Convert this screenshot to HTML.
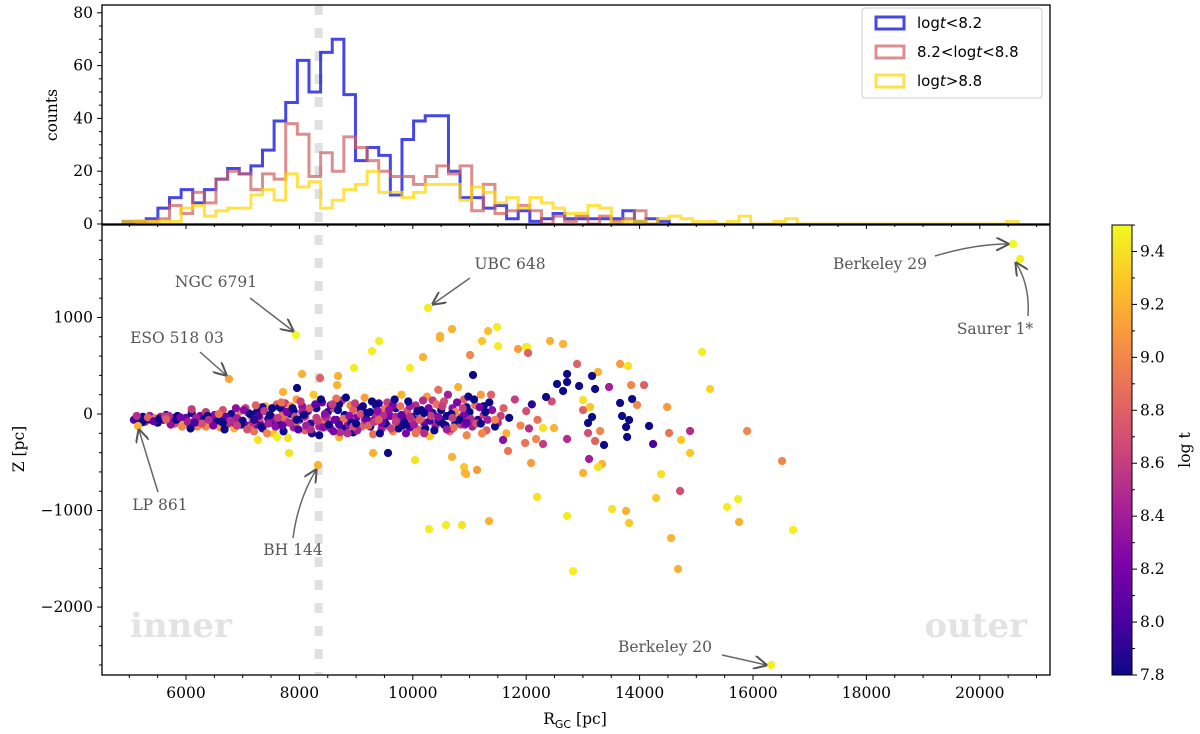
<!DOCTYPE html>
<html><head><meta charset="utf-8"><style>
body{margin:0;background:#fff}
svg{display:block}
</style></head><body>
<svg id="chart" width="1200" height="734" viewBox="0 0 1200 734" xmlns="http://www.w3.org/2000/svg" font-family="'DejaVu Serif','Liberation Serif',serif">
<defs>
<linearGradient id="plasma" x1="0" y1="1" x2="0" y2="0">
<stop offset="0" stop-color="#0d0887"/><stop offset="0.125" stop-color="#4c02a1"/>
<stop offset="0.25" stop-color="#7e03a8"/><stop offset="0.375" stop-color="#a82296"/>
<stop offset="0.5" stop-color="#cc4778"/><stop offset="0.625" stop-color="#e66c5c"/>
<stop offset="0.75" stop-color="#f89540"/><stop offset="0.875" stop-color="#fdc527"/>
<stop offset="1" stop-color="#f0f921"/></linearGradient>
<marker id="arr" viewBox="0 0 10 10" refX="9" refY="5" markerWidth="9" markerHeight="9" orient="auto"><path d="M0,0 L10,5 L0,10" fill="none" stroke="#555" stroke-width="1.5"/></marker>
</defs>
<g id="topPanel"></g>
<g id="botPanel"></g>
<g id="cbarPanel"></g>
</svg>
<script>
const histStart = 4889, histWidth = 205;
const blueCounts = [1,1,2,6,10,13,8,13,17,21,19,22,28,39,46,62,50,65,70,49,24,29,26,11,32,39,41,41,20,10,10,6,7,2,5,1,2,4,2,2,2,2,2,5,1,2,1];
const redCounts = [0,1,1,2,7,4,12,8,17,20,19,13,19,17,38,34,18,27,20,33,29,24,20,18,18,15,18,22,19,22,5,15,4,5,7,5,0,3,1,3,0,3,1,2,5,0];
const yellowCounts = [1,1,1,1,1,6,7,3,5,6,6,11,13,9,19,14,16,6,9,13,15,20,12,12,10,12,15,15,15,9,14,12,8,10,6,10,8,6,4,4,7,6,0,1,1,0,2,3,2,1,1,0,1,3,0,0,1,2,0,0,0,0,0,0,0,0,0,0,0,0,0,0,0,0,0,0,1];
const xTicks = [6000,8000,10000,12000,14000,16000,18000,20000];
const countTicks = [0,20,40,60,80];
const zTicks = [1000,0,-1000,-2000];
const cbTicks = [7.8,8.0,8.2,8.4,8.6,8.8,9.0,9.2,9.4];
const clusterR = [5080,5120,5160,5200,5240,5280,5320,5360,5400,5450,
5500,5550,5600,5650,5700,5750,5800,5850,5900,5950,
6000,6050,6100,6150,6200,6250,6300,6350,6400,6450,
6500,6550,6600,6650,6700,6750,6800,6850,6900,6950,
7000,7050,7100,7150,7200,7250,7300,7350,7400,7450,
7500,7550,7600,7650,7700,7750,7800,7850,7900,7950,
8000,8050,8100,8150,8200,8250,8300,8350,8400,8450,
8500,8550,8600,8650,8700,8750,8800,8850,8900,8950,
9000,9050,9100,9150,9200,9250,9300,9350,9400,9450,
9500,9550,9600,9650,9700,9750,9800,9850,9900,9950,
10000,10050,10100,10150,10200,10250,10300,10350,10400,10450,
10500,10550,10600,10650,10700,10750,10800,10850,10900,10950,
11000,11050,11100,11150,11200,11250,11300,11350,11400,11500,
11600,11700,11800,11900,12000,12100,12200,5700,6200,6700,
7100,7300,7500,7700,7900,8100,8300,8500,8700,8900,
9100,9300,9500,9700,9900,10100,10300,10500,10700,10900,
7150,7350,7550,7750,7950,8150,8350,8550,8750,8950,
9150,9350,9550,9750,9950,10150,10350,10550,10750,10950,
6100,6350,6600,6850,7250,7650,8050,8450,8850,9250,
9650,10050,10450,10850,11250,11650,12050,12450,7850,8650];
const clusterZ = [-60,-40,-70,-50,-30,-80,-55,-20,-65,-45,
-90,-30,-60,-10,-75,-40,-100,-20,-55,-85,
-40,-110,10,-70,-130,-20,-60,20,-95,-50,
-10,-80,-140,40,-60,-100,0,-150,-40,30,
-70,60,-120,-30,-180,20,-90,-150,80,-50,
-20,-200,100,-110,40,-60,-250,0,-140,150,
-60,80,-170,30,-100,200,-40,-220,120,-80,
20,-150,60,-60,-240,140,-10,-120,90,-190,
-40,60,-130,170,-80,20,-210,-30,110,-150,
-70,120,-20,-180,60,-100,200,-50,30,-140,
-30,90,-160,40,-90,180,-230,10,-120,250,
-60,130,-20,-180,60,-100,280,-40,150,-220,
20,-130,90,-60,200,-10,-170,120,40,-90,
60,-40,150,-120,30,100,-60,-20,-80,-30,
10,-40,-90,-20,30,-30,60,-100,100,-50,
20,-70,50,-30,-110,10,-70,40,-150,-10,
-130,70,-50,110,-80,-120,-130,90,-150,40,
-60,90,-120,-150,80,-40,140,-110,20,70,
50,-130,-70,-90,-110,70,20,-30,-200,-130,
90,-200,-60,-110,80,-200,-150,130,80,160];
const clusterT = [8.1,7.8,7.9,8.2,7.8,8.6,7.9,8.3,7.8,8.9,
7.8,8.4,8.0,7.8,9.1,8.2,8.7,7.8,8.3,9.2,
8.1,8.8,7.8,8.5,9.0,8.2,7.8,8.6,8.9,7.9,
8.3,7.8,9.1,8.7,8.0,8.5,7.8,9.2,8.4,8.9,
7.8,8.6,8.2,9.0,8.9,7.8,8.3,8.1,9.2,7.9,
8.5,9.3,8.8,7.8,8.2,8.7,9.4,7.8,8.4,9.1,
7.8,8.3,8.8,8.1,7.9,9.3,8.6,7.8,8.2,8.9,
7.8,8.4,8.7,8.0,9.2,8.5,7.8,8.3,9.0,7.8,
8.2,7.8,8.8,9.1,8.1,7.8,8.9,8.5,7.9,8.4,
7.8,8.6,8.2,9.0,7.8,8.3,9.2,7.8,8.7,8.1,
7.8,8.5,8.8,7.8,8.2,9.1,9.3,7.9,8.4,8.9,
8.0,8.7,7.8,8.9,8.3,7.8,9.2,8.5,8.8,9.0,
7.8,8.4,8.9,7.9,9.1,8.6,8.8,7.8,8.3,8.5,
8.8,7.8,8.6,9.0,8.7,7.9,8.9,8.5,7.9,8.1,
8.4,8.7,7.8,8.9,7.8,8.6,7.8,8.9,7.8,8.6,
7.8,8.2,8.9,8.5,7.8,8.6,8.0,7.8,8.5,8.2,
8.9,7.9,8.3,8.6,8.8,7.8,8.4,8.1,7.8,8.8,
8.5,7.8,8.7,7.8,8.4,8.9,8.6,7.8,9.0,7.8,
8.6,9.0,7.8,8.4,8.1,7.8,8.4,8.6,8.5,7.8,
8.2,8.9,7.8,8.6,7.8,9.2,8.5,8.7,9.1,8.9];
const cluster2R = [5130,5230,5330,5430,5530,5630,5730,5830,5930,6030,
6080,6180,6280,6380,6480,6580,6680,6780,6880,6980,
7020,7080,7130,7180,7230,7280,7330,7380,7430,7480,
7520,7580,7620,7680,7720,7780,7820,7880,7920,7980,
8020,8080,8120,8180,8220,8280,8320,8380,8420,8480,
8520,8580,8620,8680,8720,8780,8820,8880,8920,8980,
9020,9080,9120,9180,9220,9280,9320,9380,9420,9480,
9520,9580,9620,9680,9720,9780,9820,9880,9920,9980,
10020,10080,10120,10180,10220,10280,10320,10380,10420,10480,
10520,10580,10620,10680,10720,10780,10820,10880,10920,10980,
11020,11080,11120,11180,11220,11280,11320,11380,11450,11550,
5650,5900,6150,6400,6650,6900,7200,7450,7700,7950,
8200,8450,8700,8950,9200,9450,9700,9950,10200,10450,
10700,10950,11200,11450,8600,9000,9400,9800,10200,10600];
const cluster2Z = [-20,-85,-35,-75,-50,-25,-110,-60,-130,-80,
-150,-40,-100,-20,-120,0,-160,-70,60,-110,
40,-160,0,-90,90,-20,-130,30,-200,-10,
60,-130,-40,120,-180,20,-90,60,-30,-160,
130,-10,-120,60,-200,100,-70,150,-140,-30,
-110,100,-60,40,-190,-50,170,-20,-90,110,
-170,0,80,-50,-120,130,-80,30,-200,-20,
-100,40,-150,150,-40,80,-120,-200,130,-60,
-110,30,-60,140,-150,60,-20,-170,100,-80,
80,-120,200,0,-140,120,-60,60,-110,180,
-50,150,-100,70,-200,20,-60,200,-130,-20,
-55,-35,-90,-60,-90,-120,-60,-100,-120,-60,
-160,0,-110,-130,10,-90,-80,-30,10,-30,
-40,-90,-100,-60,-180,-100,-60,-10,-200,-160];
const cluster2T = [8.5,7.8,8.8,8.1,7.8,8.6,8.3,7.8,9.0,8.4,
7.8,8.4,8.7,7.8,8.2,8.9,7.8,8.5,8.3,7.8,
8.3,8.7,7.8,8.5,8.8,8.0,7.8,8.6,9.0,7.8,
7.8,8.3,8.6,8.9,7.8,8.2,8.5,7.8,8.7,8.0,
8.6,7.8,8.4,8.8,7.8,8.1,8.6,7.8,8.3,8.5,
7.8,8.6,8.2,7.8,8.5,8.9,7.8,8.3,7.8,8.6,
8.4,8.7,7.8,8.1,8.8,7.8,8.6,8.3,7.8,8.5,
7.8,8.3,8.6,7.8,8.5,8.9,7.8,8.2,7.8,8.6,
8.4,7.8,8.8,8.5,7.8,8.2,8.6,7.8,8.9,7.8,
8.6,7.8,8.4,7.8,8.9,8.2,7.8,8.6,8.3,7.8,
8.5,7.8,8.7,8.2,9.0,7.8,8.4,8.8,7.8,8.6,
8.8,8.2,8.0,8.5,7.8,8.6,7.9,8.4,8.1,7.8,
8.5,8.3,8.0,8.7,7.8,8.2,8.6,8.5,7.8,8.3,
8.6,8.1,7.8,9.0,8.2,7.8,8.8,8.1,8.5,8.4];
const sparseR = [10269,10692,10480,11486,11327,11221,11504,12421,12650,15102,15243,12015,11856,11010,13797,13656,12897,13267,14079,13850,13462,12721,12544,12721,12933,13215,13162,12650,12350,13656,13868,13956,14485,13691,13815,13762,14167,13780,13162,13091,13373,14238,14890,14520,14732,14890,15896,16513,13091,13303,13215,13003,13003,13127,12721,12297,12174,11980,12491,12297,13109,13338,13267,13003,12086,11680,11592,11133,10939,10904,10692,10040,14379,14714,14291,13515,13762,13815,12192,12721,11345,10868,10586,10286,14555,12827,14679,15543,15737,15755,16707,
9405,9281,8963,8681,8046,8364,9952,10180,10480,11997,7605,7817,7270,10921,9563,9299,7711,7958,8664,11062,12033];
const sparseZ = [1098,880,808,901,860,756,704,756,725,642,259,694,673,611,497,518,518,435,300,300,280,414,311,331,290,259,394,238,176,114,155,93,73,-21,-62,-135,-124,-238,-31,-93,-321,-311,-176,-197,-269,-404,-176,-487,-197,-176,-280,41,145,73,-259,-311,-259,-300,-145,-145,-466,-518,-549,-611,-508,-383,-269,-580,-622,-549,-445,-477,-622,-798,-870,-984,-1005,-1129,-860,-1057,-1109,-1150,-1150,-1191,-1285,-1627,-1606,-963,-881,-1119,-1202,
756,653,477,394,414,373,477,590,787,694,-238,-404,-269,-611,-404,-404,228,269,300,404,632];
const sparseT = [9.4,9.2,9.2,9.45,9.25,9.3,9.45,9.2,9.2,9.45,9.35,9.45,9.1,9.0,9.4,9.1,8.8,9.2,8.8,9.0,8.4,7.8,7.8,7.8,7.8,7.8,7.8,7.8,7.8,7.8,7.8,9.0,9.1,7.8,7.8,7.8,7.8,7.8,7.8,7.8,7.8,8.0,8.5,8.9,9.3,9.3,9.0,9.0,8.7,9.0,8.8,8.8,9.4,9.3,8.5,8.6,9.0,8.9,9.2,9.4,8.4,9.2,9.4,9.2,9.1,8.9,8.3,9.1,9.2,9.3,9.2,9.4,9.4,8.7,9.3,9.4,9.2,9.3,9.4,9.45,9.2,9.4,9.45,9.45,9.2,9.45,9.2,9.45,9.45,9.2,9.45,
9.45,9.45,9.45,9.2,9.2,8.8,9.45,9.2,9.2,9.45,9.45,9.4,9.4,9.2,7.8,9.2,9.2,7.8,9.2,7.8,8.8];
const namedLabels = ["NGC 6791","ESO 518 03","UBC 648","Berkeley 29","Saurer 1*","LP 861","BH 144","Berkeley 20"];
const namedR = [7940,6758,10269,20588,20712,5153,8328,16320];
const namedZ = [818,363,1098,1761,1606,-124,-528,-2600];
const namedT = [9.5,9.15,9.45,9.5,9.45,9.2,9.2,9.45];

const NS="http://www.w3.org/2000/svg";
const L=102,Rgt=1050,TT=5,TB=224,BT=225,BB=675;
const xS=r=>186+(r-6000)*0.0567;
const yC=c=>224-c*2.64;
const yZ=z=>414-z*0.09653;
const cMin=7.8,cMax=9.5;
const yCB=t=>675-(t-cMin)/(cMax-cMin)*450;
function el(tag,attrs,parent,txt){const e=document.createElementNS(NS,tag);for(const k in attrs)e.setAttribute(k,attrs[k]);if(txt!==undefined)e.textContent=txt;parent.appendChild(e);return e;}
const stops=[[0,[13,8,135]],[0.125,[76,2,161]],[0.25,[126,3,168]],[0.375,[168,34,150]],[0.5,[204,71,120]],[0.625,[230,108,92]],[0.75,[248,149,64]],[0.875,[253,197,39]],[1,[240,249,33]]];
function plasma(t){let f=Math.max(0,Math.min(1,(t-cMin)/(cMax-cMin)));for(let i=1;i<stops.length;i++){if(f<=stops[i][0]){const a=stops[i-1],b=stops[i];const u=(f-a[0])/(b[0]-a[0]);const c=a[1].map((v,j)=>Math.round(v+(b[1][j]-v)*u));return `rgb(${c[0]},${c[1]},${c[2]})`;}}return 'rgb(240,249,33)';}

const svgRoot=document.getElementById('chart');
const topG=document.getElementById('topPanel'),botG=document.getElementById('botPanel'),cbG=document.getElementById('cbarPanel');
const sun=document.createElementNS(NS,'line');
sun.setAttribute('x1',xS(8340));sun.setAttribute('x2',xS(8340));sun.setAttribute('y1',TT);sun.setAttribute('y2',BB);
sun.setAttribute('stroke','#e0e0e0');sun.setAttribute('stroke-width',8);sun.setAttribute('stroke-dasharray','10 13');


svgRoot.insertBefore(sun,topG);

function histPath(counts){let x0=xS(histStart);let d=`M${x0},${yC(0)}`;counts.forEach((c,i)=>{const a=xS(histStart+i*histWidth),b=xS(histStart+(i+1)*histWidth);d+=`L${a},${yC(c)}L${b},${yC(c)}`;});d+=`L${xS(histStart+counts.length*histWidth)},${yC(0)}`;return d;}
const hs=[[blueCounts,'#0000dd',0.72,'hist-young'],[redCounts,'#cd5c5c',0.7,'hist-middle'],[yellowCounts,'#ffd700',0.72,'hist-old']];
hs.forEach(h=>{const p=el('path',{d:histPath(h[0]),fill:'none',stroke:h[1],'stroke-opacity':h[2],'stroke-width':3},topG);

});

const f1=el('rect',{x:L,y:TT,width:Rgt-L,height:TB-TT,fill:'none',stroke:'#000','stroke-width':1.3},topG);


const f2=el('rect',{x:L,y:BT,width:Rgt-L,height:BB-BT,fill:'none',stroke:'#000','stroke-width':1.3},botG);



for(let r=5000;r<=21000;r+=500){const x=xS(r);if(x<L||x>Rgt)continue;const maj=xTicks.includes(r);
[TB,BB].forEach(yy=>{const t=el('line',{x1:x,x2:x,y1:yy,y2:yy+(maj?5:3),stroke:'#000','stroke-width':1},botG);

});}
xTicks.forEach(r=>{const t=el('text',{x:xS(r),y:698,'text-anchor':'middle','font-size':15.5,fill:'#000'},botG,String(r));

});
const xl=el('text',{x:575,y:724,'text-anchor':'middle','font-size':15.5},botG);


xl.innerHTML='R<tspan font-size="11" dy="4" font-family="DejaVu Sans,sans-serif">GC</tspan><tspan dy="-4"> [pc]</tspan>';

for(let c=0;c<=85;c+=5){const y=yC(c);if(y<TT)continue;const maj=c%20===0;const t=el('line',{x1:L-(maj?5:3),x2:L,y1:y,y2:y,stroke:'#000'},topG);

}
countTicks.forEach(c=>{const t=el('text',{x:L-9,y:yC(c)+5,'text-anchor':'end','font-size':15.5},topG,String(c));

});
const cl=el('text',{x:57,y:115,'text-anchor':'middle','font-size':15.5,transform:'rotate(-90 57 115)'},topG,'counts');



for(let z=-2600;z<=1800;z+=200){const y=yZ(z);if(y<BT||y>BB)continue;const maj=z%1000===0;const t=el('line',{x1:L-(maj?5:3),x2:L,y1:y,y2:y,stroke:'#000'},botG);

}
zTicks.forEach(z=>{const t=el('text',{x:L-9,y:yZ(z)+5,'text-anchor':'end','font-size':15.5},botG,String(z).replace('-','\u2212'));

});
const zl=el('text',{x:24,y:449,'text-anchor':'middle','font-size':15.5,transform:'rotate(-90 24 449)'},botG,'Z [pc]');



const inn=el('text',{x:130,y:637,'font-size':34,'font-weight':'bold',fill:'#e3e3e3'},botG,'inner');


const outT=el('text',{x:1027,y:637,'text-anchor':'end','font-size':34,'font-weight':'bold',fill:'#e3e3e3'},botG,'outer');



function dot(r,z,t,name){const c=el('circle',{cx:xS(r),cy:yZ(z),r:4.1,fill:plasma(t)},botG);

}
for(let i=0;i<clusterR.length;i++){if(clusterZ[i]===undefined||clusterT[i]===undefined)continue;dot(clusterR[i],clusterZ[i],clusterT[i],'cluster-point');}
for(let i=0;i<cluster2R.length;i++){if(cluster2Z[i]===undefined||cluster2T[i]===undefined)continue;dot(cluster2R[i],cluster2Z[i],cluster2T[i],'cluster-point');}
for(let i=0;i<sparseR.length;i++){if(sparseZ[i]===undefined||sparseT[i]===undefined)continue;dot(sparseR[i],sparseZ[i],sparseT[i],'cluster-point');}
for(let i=0;i<namedR.length;i++)dot(namedR[i],namedZ[i],namedT[i],'named-cluster-point');

const ann=[[216,287,'middle','M250,298 L293,331'],[177,343,'middle','M200,352 L226,375'],[510,269,'middle','M470,278 L433,304'],[880,269,'middle','M935,256 Q975,244 1008,244'],[995,334,'middle','M1028,316 Q1030,285 1016,263'],[160,510,'middle','M158,492 Q148,460 139,430'],[293,555,'middle','M293,538 Q298,500 316,470'],[665,652,'middle','M722,655 Q745,660 766,665']];
ann.forEach((a,i)=>{const t=el('text',{x:a[0],y:a[1],'text-anchor':a[2],'font-size':15.5,fill:'#555'},botG,namedLabels[i]);


const p=el('path',{d:a[3],fill:'none',stroke:'#666','stroke-width':1.5,'marker-end':'url(#arr)'},botG);

});

const lg=el('g',{},topG);


el('rect',{x:862,y:8,width:180,height:90,rx:3,fill:'#fff','fill-opacity':0.8,stroke:'#ccc'},lg);
const lgItems=[['#0000dd',0.72,'log<tspan font-style="italic">t</tspan>&lt;8.2'],['#cd5c5c',0.7,'8.2&lt;log<tspan font-style="italic">t</tspan>&lt;8.8'],['#ffd700',0.72,'log<tspan font-style="italic">t</tspan>&gt;8.8']];
lgItems.forEach((it,i)=>{const y=23+i*29;const g=el('g',{},lg);


el('rect',{x:876,y:y-6,width:28,height:12,fill:'none',stroke:it[0],'stroke-opacity':it[1],'stroke-width':3},g);
const t=el('text',{x:917,y:y+5,'font-size':15,'font-family':'DejaVu Sans,sans-serif'},g);t.innerHTML=it[2];});

const cr=el('rect',{x:1112,y:225,width:20,height:450,fill:'url(#plasma)',stroke:'#000','stroke-width':1},cbG);


cbTicks.forEach(t=>{const y=yCB(t);el('line',{x1:1132,x2:1137,y1:y,y2:y,stroke:'#000'},cbG);
const tx=el('text',{x:1140,y:y+5,'font-size':15.5},cbG,t.toFixed(1));

});
for(let t=7.9;t<9.5;t+=0.2){const y=yCB(t);el('line',{x1:1132,x2:1135,y1:y,y2:y,stroke:'#000'},cbG);}
const ct=el('text',{x:1190,y:450,'text-anchor':'middle','font-size':15.5,transform:'rotate(-90 1190 450)'},cbG,'log t');


</script>
</body></html>
